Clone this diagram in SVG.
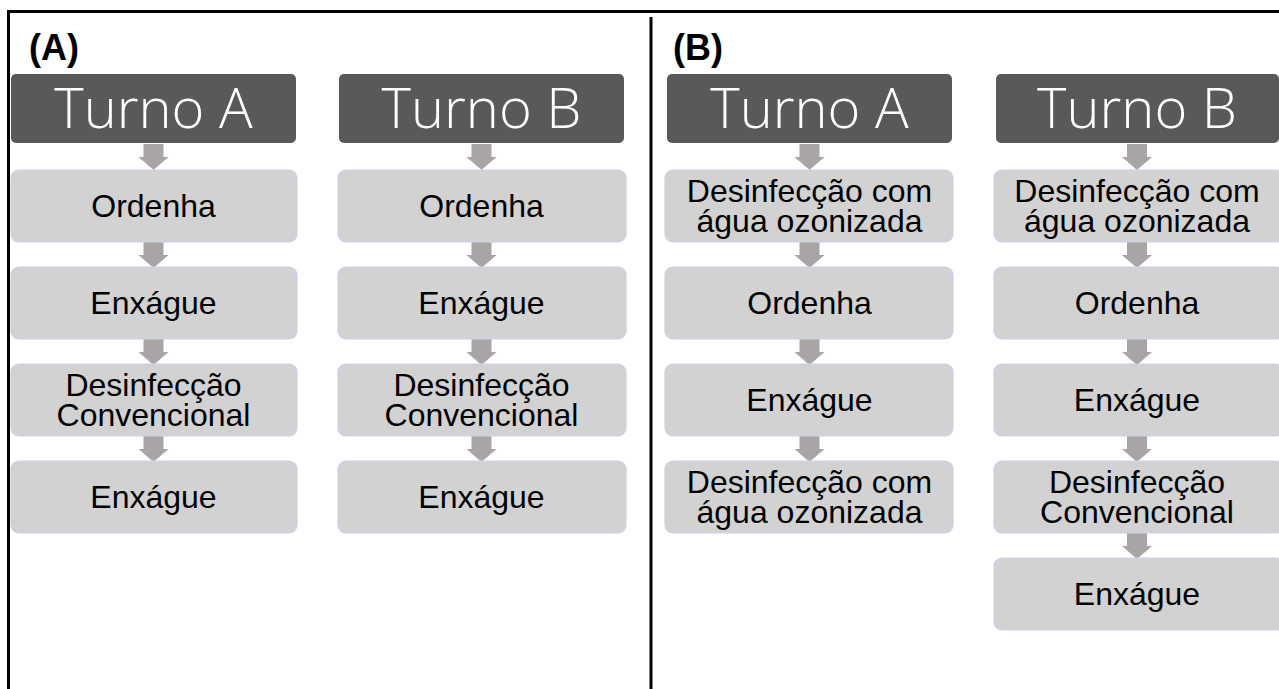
<svg xmlns="http://www.w3.org/2000/svg" xmlns:xlink="http://www.w3.org/1999/xlink" width="1279" height="689" viewBox="0 0 1279 689">
<style>
.frame{stroke:#000;stroke-width:3;fill:none}
.hdr{fill:#595959}
.hdrt{fill:#fff;font-family:"Open Sans","Noto Sans",sans-serif;font-weight:300;font-size:56px;text-anchor:middle}
.box{fill:#D3D2D3;stroke:#CBD2E8;stroke-width:1.2}
.bt{fill:#000;font-family:"Liberation Sans",Arial,sans-serif;font-size:32px;text-anchor:middle}
.lbl{fill:#000;font-family:"Liberation Sans",Arial,sans-serif;font-size:36px;font-weight:bold}
.arr{fill:#A8A5A4}
</style>
<defs>
<path id="a1" class="arr" d="M-10,0 H10 V13 H15 L0,26 L-15,13 H-10 Z"/>
</defs>
<rect width="1279" height="689" fill="#fff"/>
<g id="frame">
<path class="frame" d="M8.5,689 V11.5 H1279"/>
<path class="frame" d="M651,17 V689"/>
</g>
<text class="lbl" x="29" y="60">(A)</text>
<text class="lbl" x="673" y="60">(B)</text>

<g id="connectors">
<use xlink:href="#a1" x="153.5" y="144"/>
<use xlink:href="#a1" x="153.5" y="242"/>
<use xlink:href="#a1" x="153.5" y="339"/>
<use xlink:href="#a1" x="153.5" y="436"/>
<use xlink:href="#a1" x="481.5" y="144"/>
<use xlink:href="#a1" x="481.5" y="242"/>
<use xlink:href="#a1" x="481.5" y="339"/>
<use xlink:href="#a1" x="481.5" y="436"/>
<use xlink:href="#a1" x="809.5" y="144"/>
<use xlink:href="#a1" x="809.5" y="242"/>
<use xlink:href="#a1" x="809.5" y="339"/>
<use xlink:href="#a1" x="809.5" y="436"/>
<use xlink:href="#a1" x="1137" y="144"/>
<use xlink:href="#a1" x="1137" y="242"/>
<use xlink:href="#a1" x="1137" y="339"/>
<use xlink:href="#a1" x="1137" y="436"/>
<use xlink:href="#a1" x="1137" y="533"/>
</g>

<g id="A-turnoA">
<g id="A-A-h"><rect class="hdr" x="11" y="74" width="285" height="69" rx="5"/><text class="hdrt" x="153.5" y="128">Turno A</text></g>
<g id="A-A-1"><rect class="box" x="11" y="170" width="286" height="72" rx="8"/><text class="bt" x="153.5" y="217">Ordenha</text></g>
<g id="A-A-2"><rect class="box" x="11" y="267" width="286" height="72" rx="8"/><text class="bt" x="153.5" y="314">Enxágue</text></g>
<g id="A-A-3"><rect class="box" x="11" y="364" width="286" height="72" rx="8"/><text class="bt" x="153.5" y="396">Desinfecção</text><text class="bt" x="153.5" y="426">Convencional</text></g>
<g id="A-A-4"><rect class="box" x="11" y="461" width="286" height="72" rx="8"/><text class="bt" x="153.5" y="508">Enxágue</text></g>
</g>

<g id="A-turnoB">
<g id="A-B-h"><rect class="hdr" x="339" y="74" width="285" height="69" rx="5"/><text class="hdrt" x="481.5" y="128">Turno B</text></g>
<g id="A-B-1"><rect class="box" x="338" y="170" width="288" height="72" rx="8"/><text class="bt" x="481.5" y="217">Ordenha</text></g>
<g id="A-B-2"><rect class="box" x="338" y="267" width="288" height="72" rx="8"/><text class="bt" x="481.5" y="314">Enxágue</text></g>
<g id="A-B-3"><rect class="box" x="338" y="364" width="288" height="72" rx="8"/><text class="bt" x="481.5" y="396">Desinfecção</text><text class="bt" x="481.5" y="426">Convencional</text></g>
<g id="A-B-4"><rect class="box" x="338" y="461" width="288" height="72" rx="8"/><text class="bt" x="481.5" y="508">Enxágue</text></g>
</g>

<g id="B-turnoA">
<g id="B-A-h"><rect class="hdr" x="667" y="74" width="285" height="69" rx="5"/><text class="hdrt" x="809.5" y="128">Turno A</text></g>
<g id="B-A-1"><rect class="box" x="665" y="170" width="288" height="72" rx="8"/><text class="bt" x="809.5" y="202">Desinfecção com</text><text class="bt" x="809.5" y="232">água ozonizada</text></g>
<g id="B-A-2"><rect class="box" x="665" y="267" width="288" height="72" rx="8"/><text class="bt" x="809.5" y="314">Ordenha</text></g>
<g id="B-A-3"><rect class="box" x="665" y="364" width="288" height="72" rx="8"/><text class="bt" x="809.5" y="411">Enxágue</text></g>
<g id="B-A-4"><rect class="box" x="665" y="461" width="288" height="72" rx="8"/><text class="bt" x="809.5" y="493">Desinfecção com</text><text class="bt" x="809.5" y="523">água ozonizada</text></g>
</g>

<g id="B-turnoB">
<g id="B-B-h"><rect class="hdr" x="996" y="74" width="283" height="69" rx="5"/><text class="hdrt" x="1137" y="128">Turno B</text></g>
<g id="B-B-1"><rect class="box" x="994" y="170" width="290" height="72" rx="8"/><text class="bt" x="1137" y="202">Desinfecção com</text><text class="bt" x="1137" y="232">água ozonizada</text></g>
<g id="B-B-2"><rect class="box" x="994" y="267" width="290" height="72" rx="8"/><text class="bt" x="1137" y="314">Ordenha</text></g>
<g id="B-B-3"><rect class="box" x="994" y="364" width="290" height="72" rx="8"/><text class="bt" x="1137" y="411">Enxágue</text></g>
<g id="B-B-4"><rect class="box" x="994" y="461" width="290" height="72" rx="8"/><text class="bt" x="1137" y="493">Desinfecção</text><text class="bt" x="1137" y="523">Convencional</text></g>
<g id="B-B-5"><rect class="box" x="994" y="558" width="290" height="72" rx="8"/><text class="bt" x="1137" y="605">Enxágue</text></g>
</g>
</svg>
